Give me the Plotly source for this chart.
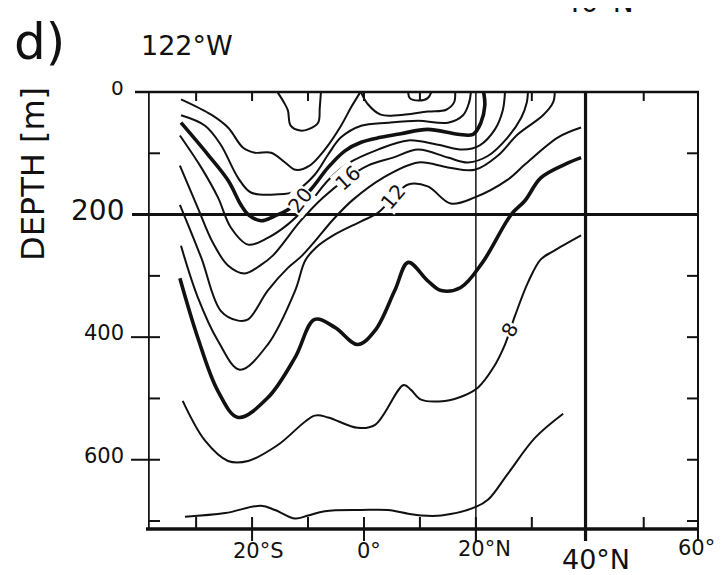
import plotly.graph_objects as go

# ---------------- data: isotherm traces (latitude in deg, negative = S; depth in m) ----------------
lat_t24a = [-32.7, -27.3, -24.3, -21.6, -19.5, -16.6, -14.1, -12.2, -9.7, -7.0, -4.1, -2.3, -0.7]
dep_t24a = [12, 37, 58, 91, 99, 99, 115, 127, 120, 94, 55, 25, 1]

lat_t24b = [-0.5, 0.7, 3.0, 6.1, 11.4, 14.7, 16.1, 16.3]
dep_t24b = [1, 20, 37, 38, 32, 29, 17, 1]

lat_t26 = [-15.4, -14.3, -13.6, -13.1, -11.4, -10.0, -8.2, -7.9, -7.7]
dep_t26 = [1, 17, 30, 55, 63, 61, 50, 25, 1]

lat_t28 = [7.9, 8.2, 9.7, 11.4, 12.0]
dep_t28 = [1, 10, 14, 10, 1]

lat_t22 = [-32.7, -28.4, -25.6, -22.5, -20.2, -15.4, -12.3, -8.8, -6.4, -4.1, -0.5, 4.3, 9.7, 15.0, 17.7, 18.8, 19.1]
dep_t22 = [38, 55, 86, 140, 164, 167, 162, 135, 102, 74, 55, 50, 47, 50, 38, 17, 1]

lat_t20 = [-32.7, -27.9, -24.3, -22.0, -20.7, -18.4, -15.9, -13.6, -9.7, -6.4, -3.4, -0.5, 3.0, 6.6, 11.4, 16.8, 19.5, 20.9, 21.6, 21.4]
dep_t20 = [50, 102, 144, 184, 200, 210, 202, 192, 161, 123, 96, 82, 74, 68, 61, 69, 69, 50, 22, 1]

lat_t18 = [-32.9, -29.1, -26.1, -23.8, -20.7, -17.2, -13.6, -10.0, -6.4, -2.9, 2.5, 7.9, 13.2, 17.7, 20.7, 23.4, 24.8, 25.2]
dep_t18 = [71, 123, 172, 221, 249, 238, 216, 184, 144, 117, 94, 79, 86, 94, 87, 61, 30, 1]

lat_t16 = [-32.9, -29.7, -27.0, -24.3, -21.3, -18.4, -16.3, -11.3, -7.3, -2.9, 0.7, 5.2, 9.7, 15.0, 18.6, 22.2, 25.7, 28.1, 29.1, 29.3]
dep_t16 = [120, 189, 246, 283, 296, 282, 267, 210, 172, 140, 120, 107, 94, 107, 115, 104, 74, 42, 17, 1]

lat_t14 = [-32.9, -29.1, -25.6, -22.5, -20.7, -17.2, -13.6, -11.3, -9.1, -5.5, -2.0, 3.4, 9.7, 15.0, 19.8, 23.9, 27.5, 32.0, 33.8, 34.1]
dep_t14 = [184, 270, 357, 373, 371, 324, 287, 269, 247, 208, 176, 140, 115, 123, 127, 104, 69, 38, 17, 1]

lat_t12 = [-32.7, -29.7, -26.1, -22.2, -17.2, -12.3, -10.5, -8.6, -5.5, -0.5, 2.5, 5.2, 7.9, 11.4, 15.5, 19.8, 25.7, 28.8, 34.7, 38.8]
dep_t12 = [251, 335, 406, 453, 412, 324, 275, 254, 234, 211, 197, 172, 151, 154, 182, 172, 143, 118, 74, 58]

lat_t10 = [-32.9, -29.7, -26.1, -22.5, -17.2, -12.3, -8.8, -5.2, -1.1, 2.0, 5.5, 7.9, 11.4, 13.8, 17.3, 21.2, 26.3, 28.8, 31.6, 35.9, 38.8]
dep_t10 = [304, 401, 488, 531, 499, 433, 371, 384, 412, 389, 324, 278, 308, 324, 319, 278, 200, 177, 140, 118, 107]

lat_t08 = [-32.4, -28.4, -24.3, -20.7, -15.4, -8.8, -6.4, -1.1, 2.0, 7.1, 8.4, 10.2, 14.5, 17.7, 20.4, 23.1, 25.2, 27.0, 29.3, 31.6, 33.8, 38.8]
dep_t08 = [504, 569, 602, 602, 576, 528, 531, 548, 543, 478, 486, 502, 504, 496, 482, 450, 412, 365, 311, 273, 260, 234]

lat_t06 = [-32.0, -24.8, -18.4, -15.9, -12.3, -10.0, -7.0, -0.5, 4.3, 7.9, 10.2, 13.8, 20.0, 22.2, 25.7, 30.6, 35.6]
dep_t06 = [693, 687, 675, 682, 696, 691, 684, 682, 682, 688, 691, 691, 677, 665, 623, 564, 525]

# contour labels: text, lat, depth, rotation
label_text = ["20", "16", "12", "8"]
label_lat = [-11.3, -2.9, 5.2, 26.1]
label_dep = [177, 140, 172, 389]
label_rot = [-52, -42, -50, -62]

# axis ticks / labels
x_tick_vals = [-20, 0, 20, 40, 60]
x_tick_text = ["20°S", "0°", "20°N", "40°N", "60°N"]
y_tick_vals = [0, 200, 400, 600]
y_tick_text = ["0", "200", "400", "600"]

LAT0, LAT1 = -38.6, 59.7
DEP_MAX = 713

# ---------------- figure ----------------
fig = go.Figure()

lines = [
    (lat_t26, dep_t26, 2.0), (lat_t28, dep_t28, 2.0), (lat_t24a, dep_t24a, 2.0), (lat_t24b, dep_t24b, 2.0),
    (lat_t22, dep_t22, 2.0), (lat_t20, dep_t20, 3.6), (lat_t18, dep_t18, 2.0),
    (lat_t16, dep_t16, 2.0), (lat_t14, dep_t14, 2.0), (lat_t12, dep_t12, 2.0),
    (lat_t10, dep_t10, 3.6), (lat_t08, dep_t08, 2.0), (lat_t06, dep_t06, 2.0),
]
for la, de, w in lines:
    fig.add_trace(go.Scatter(x=la, y=de, mode="lines", hoverinfo="skip",
                             line=dict(color="#111", width=w, shape="spline", smoothing=1.0)))

W, H = 723, 575
L, R, T, B = 140, 33, 84, 54
pw, ph = W - L - R, H - T - B


def fx(px):
    return (px - L) / pw


def fy(py):
    return (H - B - py) / ph


shapes = []
K = "#111"
# frame
shapes.append(dict(type="line", xref="x", yref="y", x0=LAT0, x1=LAT0, y0=0, y1=DEP_MAX, line=dict(color=K, width=3.5)))
shapes.append(dict(type="line", xref="paper", yref="paper", x0=fx(138), x1=fx(691), y0=0, y1=0, line=dict(color=K, width=3.5)))
shapes.append(dict(type="line", xref="paper", yref="paper", x0=fx(127), x1=fx(691), y0=1, y1=1, line=dict(color=K, width=2.5)))
shapes.append(dict(type="line", xref="paper", yref="paper", x0=1, x1=1, y0=fy(533), y1=1, line=dict(color=K, width=2)))
# 200 m line
shapes.append(dict(type="line", xref="paper", yref="y", x0=fx(124), x1=1, y0=200, y1=200, line=dict(color=K, width=3)))
# 20N and 40N
shapes.append(dict(type="line", xref="x", yref="paper", x0=20, x1=20, y0=fy(533), y1=1, line=dict(color=K, width=1.5)))
shapes.append(dict(type="line", xref="x", yref="paper", x0=39.6, x1=39.6, y0=fy(533), y1=1, line=dict(color=K, width=3.2)))
# left ticks
for d in [400, 600]:
    shapes.append(dict(type="line", xref="paper", yref="y", x0=fx(123), x1=fx(152), y0=d, y1=d, line=dict(color=K, width=2)))
for d in [100, 300, 500, 700]:
    shapes.append(dict(type="line", xref="paper", yref="y", x0=fx(140), x1=fx(152), y0=d, y1=d, line=dict(color=K, width=2)))
# right ticks
for d in [100, 300, 400, 500, 600, 700]:
    shapes.append(dict(type="line", xref="paper", yref="y", x0=fx(679), x1=1, y0=d, y1=d, line=dict(color=K, width=2)))
# top ticks
for la in [-30, -20, -10, 0, 10, 30, 50]:
    shapes.append(dict(type="line", xref="x", yref="paper", x0=la, x1=la, y0=fy(93), y1=1, line=dict(color=K, width=2)))
# bottom ticks
for la in [-30, -10, 10, 30, 50]:
    shapes.append(dict(type="line", xref="x", yref="paper", x0=la, x1=la, y0=0, y1=fy(509), line=dict(color=K, width=2)))
for la in [-20, 0, 20]:
    shapes.append(dict(type="line", xref="x", yref="paper", x0=la, x1=la, y0=fy(533), y1=fy(509), line=dict(color=K, width=2)))

FONT = "DejaVu Sans"
ann = []
# y tick labels
ysz = [20, 28, 21, 21]
for v, t, s in zip(y_tick_vals, y_tick_text, ysz):
    ann.append(dict(xref="paper", yref="y", x=fx(118), y=v, text=t, showarrow=False, yshift=4,
                    xanchor="right", yanchor="middle", font=dict(family=FONT, size=s, color=K)))
# x tick labels
xpos = [250, 361, 476, 588, 668]
xy = [543, 543, 541, 551, 540]
xsz = [21, 21, 21, 27, 21]
xanc = ["center", "center", "center", "center", "left"]
for v, t, px_, py_, s, a in zip(x_tick_vals, x_tick_text, xpos, xy, xsz, xanc):
    ann.append(dict(xref="paper", yref="paper", x=fx(px_), y=fy(py_), text=t, showarrow=False,
                    xanchor=a, yanchor="middle", font=dict(family=FONT, size=s, color=K)))
# titles
ann.append(dict(xref="paper", yref="paper", x=fx(31), y=fy(34), text="d)", showarrow=False,
                xanchor="center", yanchor="middle", font=dict(family=FONT, size=50, color=K)))
ann.append(dict(xref="paper", yref="paper", x=fx(179), y=fy(38), text="122°W", showarrow=False,
                xanchor="center", yanchor="middle", font=dict(family=FONT, size=27, color=K)))
ann.append(dict(xref="paper", yref="paper", x=fx(25), y=fy(166), text="DEPTH [m]", showarrow=False, textangle=-90,
                xanchor="center", yanchor="middle", font=dict(family=FONT, size=32, color=K)))
ann.append(dict(xref="paper", yref="paper", x=fx(590), y=fy(-6), text="40°N", showarrow=False,
                xanchor="center", yanchor="middle", font=dict(family=FONT, size=28, color=K)))
# contour labels
for t, la, de, r in zip(label_text, label_lat, label_dep, label_rot):
    ann.append(dict(xref="x", yref="y", x=la, y=de, text=t, showarrow=False, textangle=r,
                    bgcolor="white", borderpad=0,
                    xanchor="center", yanchor="middle", font=dict(family=FONT, size=20, color=K)))

fig.update_layout(
    width=W, height=H, margin=dict(l=L, r=R, t=T, b=B, pad=0),
    paper_bgcolor="white", plot_bgcolor="white", showlegend=False,
    xaxis=dict(range=[LAT0, LAT1], showgrid=False, zeroline=False, showline=False,
               showticklabels=False, ticks="", fixedrange=True),
    yaxis=dict(range=[DEP_MAX, 0], showgrid=False, zeroline=False, showline=False,
               showticklabels=False, ticks="", fixedrange=True),
    shapes=shapes, annotations=ann,
)

fig.write_html("out.html")
